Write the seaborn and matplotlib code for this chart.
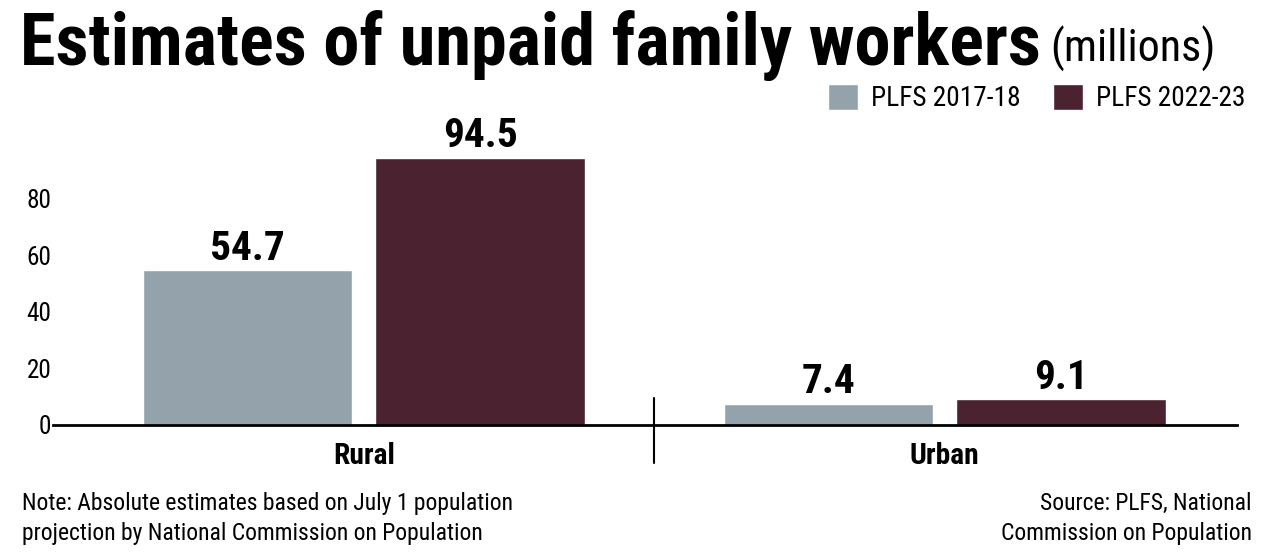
import os
import matplotlib
matplotlib.use("Agg")
import matplotlib.pyplot as plt
from matplotlib import font_manager as fm
import seaborn as sns
import pandas as pd

categories = ["Rural", "Urban"]
series_names = ["PLFS 2017-18", "PLFS 2022-23"]
values_2017_18 = [54.7, 7.4]
values_2022_23 = [94.5, 9.1]
yticks = [0, 20, 40, 60, 80]

df = pd.DataFrame({
    "area": categories * 2,
    "survey": [series_names[0]] * len(categories) + [series_names[1]] * len(categories),
    "value": values_2017_18 + values_2022_23,
})

sns.set_theme(style="white")

# ---- pick a condensed font if one is installed ----
files = {os.path.basename(f.fname).lower(): f.fname for f in fm.fontManager.ttflist}


def pick(cands):
    for c in cands:
        if c.lower() in files:
            return files[c.lower()]
    return None


reg_file = pick(["LiberationSansNarrow-Regular.ttf", "RobotoCondensed-Regular.ttf",
                 "NotoSans-CondensedRegular.ttf", "NotoSans-Condensed.ttf",
                 "DejaVuSansCondensed.ttf", "OpenSans_Condensed-Regular.ttf",
                 "Roboto-Regular.ttf"])
bold_file = pick(["LiberationSansNarrow-Bold.ttf", "RobotoCondensed-Bold.ttf",
                  "NotoSans-CondensedBold.ttf", "DejaVuSansCondensed-Bold.ttf",
                  "OpenSans_Condensed-Bold.ttf", "Roboto-Bold.ttf"])
black_file = pick(["RobotoCondensed-Black.ttf", "RobotoCondensed-ExtraBold.ttf",
                   "NotoSans-CondensedBlack.ttf", "NotoSans-CondensedExtraBold.ttf"]) or bold_file


def fp(path, size, weight="normal"):
    if path:
        return fm.FontProperties(fname=path, size=size)
    return fm.FontProperties(family="DejaVu Sans", weight=weight, size=size)


colors = ["#94a3ab", "#4a2230"]

fig = plt.figure(figsize=(12.75, 5.6), dpi=100)
renderer = fig.canvas.get_renderer()


def fit(artist, target_w, max_size):
    w = artist.get_window_extent(renderer).width
    size = artist.get_fontsize()
    new = min(max_size, size * target_w / w)
    artist.set_fontsize(new)
    return new


ax = fig.add_axes([53 / 1275, 135 / 560, (1237 - 53) / 1275, 0.5045])

sns.barplot(data=df, x="area", y="value", hue="survey", order=categories,
            hue_order=series_names, palette=colors, width=0.8, gap=0.1,
            saturation=1, ax=ax, legend=True)

ax.set_ylim(0, 100)
ax.set_xlim(-0.535, 1.503)

# value labels
probe = fig.text(0, 0, "94.5", fontproperties=fp(bold_file, 30, "bold"))
val_size = fit(probe, 75, 34)
probe.remove()
for cont in ax.containers:
    ax.bar_label(cont, labels=[f"{v:.1f}" for v in cont.datavalues],
                 fontproperties=fp(bold_file, val_size, "bold"), padding=2, color="black")

ax.set_yticks(yticks)
probe = fig.text(0, 0, "80", fontproperties=fp(reg_file, 20))
ytick_size = fit(probe, 25, 21)
probe.remove()
ax.set_yticklabels([str(t) for t in yticks], fontproperties=fp(reg_file, ytick_size), color="black")
ax.tick_params(axis="y", length=0, pad=1)
ax.tick_params(axis="x", length=0, pad=12)
probe = fig.text(0, 0, "Rural", fontproperties=fp(bold_file, 21, "bold"))
xt_size = fit(probe, 62, 22)
probe.remove()
ax.set_xticks(range(len(categories)))
ax.set_xticklabels(categories, fontproperties=fp(bold_file, xt_size, "bold"), color="black")
ax.set_xlabel("")
ax.set_ylabel("")
for s in ["top", "right", "left"]:
    ax.spines[s].set_visible(False)
ax.spines["bottom"].set_color("black")
ax.spines["bottom"].set_linewidth(2)

# divider between categories
ax.plot([0.5, 0.5], [-13.5, 9.6], color="black", lw=1.5, clip_on=False)

probe = fig.text(0, 0, series_names[1], fontproperties=fp(reg_file, 20))
leg_size = fit(probe, 150, 21)
probe.remove()
handles, labels = ax.get_legend_handles_labels()
ax.legend(handles, labels, loc="upper right", bbox_to_anchor=(1245 / 1275, 1 - 84 / 560),
          bbox_transform=fig.transFigure, ncol=2, frameon=False,
          prop=fp(reg_file, leg_size), labelcolor="black",
          handlelength=1.1, handleheight=1.1, handletextpad=0.45, columnspacing=1.2,
          borderpad=0, borderaxespad=0)

t = fig.text(20 / 1275, 1 - 65 / 560, "Estimates of unpaid family workers",
             fontproperties=fp(black_file, 47, "bold"), ha="left", va="baseline", color="black")
fit(t, 1020, 56)
m = fig.text(1050 / 1275, 1 - 62 / 560, "(millions)", fontproperties=fp(reg_file, 27),
             ha="left", va="baseline", color="black")
fit(m, 165, 33)

notes = [
    (22, 510, "Note: Absolute estimates based on July 1 population", "left", 496),
    (22, 540, "projection by National Commission on Population", "left", 468),
    (1252, 510, "Source: PLFS, National", "right", 207),
    (1252, 540, "Commission on Population", "right", 250),
]
sizes = []
arts = []
for x, y, s, ha, w in notes:
    a = fig.text(x / 1275, 1 - y / 560, s, fontproperties=fp(reg_file, 18),
                 ha=ha, va="baseline", color="black")
    sizes.append(fit(a, w, 22))
    arts.append(a)
ns = sum(sizes) / len(sizes)
for a in arts:
    a.set_fontsize(ns)

fig.savefig("out.png", dpi=100, facecolor="white")
